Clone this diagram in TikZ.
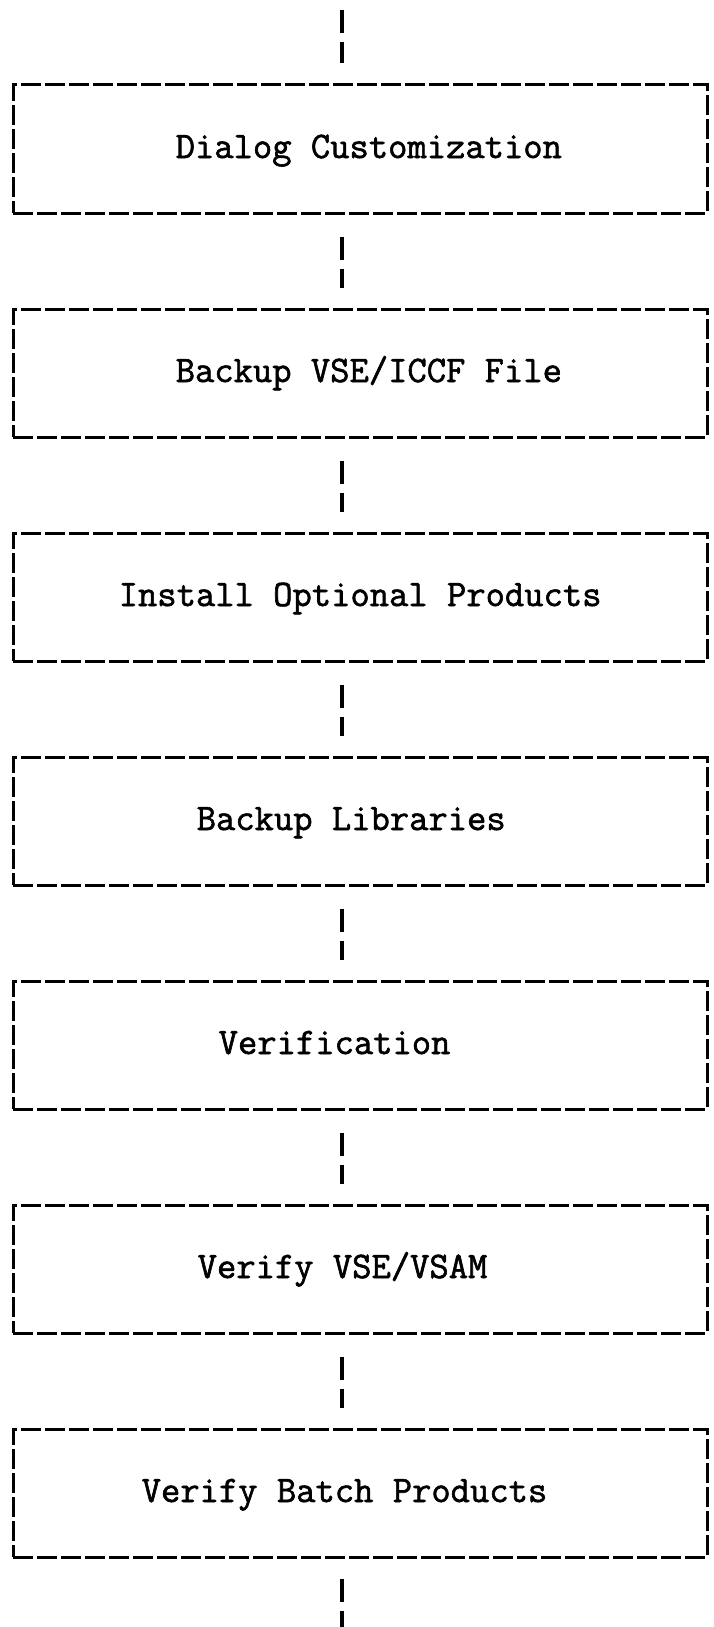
\documentclass[tikz,border=0pt]{standalone}
\usepackage{fontspec}
\newfontfamily\typefont{Latin Modern Mono}[FakeBold=1.6]
\usetikzlibrary{calc}
\tikzset{stepbox/.style={rectangle, draw, line width=3.0pt, dash pattern=on 20pt off 4pt, minimum width=694pt, minimum height=128pt, inner sep=0pt}}
\tikzset{steptext/.style={inner sep=0pt, anchor=base west, font=\typefont\fontsize{37.5}{43}\selectfont}}
\tikzset{link/.style={line width=3.6pt, dash pattern=on 23pt off 9pt}}

\begin{document}
\begin{tikzpicture}[x=1pt,y=-1pt]
  \useasboundingbox (0,0) rectangle (714,1627);
  \foreach \i/\y/\dx/\lab in {
    1/149/164/{Dialog Customization},
    2/373/164/{Backup VSE/ICCF File},
    3/597/107/{Install Optional Products},
    4/821/185/{Backup Libraries},
    5/1045/207/{Verification},
    6/1269/186/{Verify VSE/VSAM},
    7/1493/130/{Verify Batch Products}%
  } {
    \node[stepbox] (b\i) at (360,\y) {};
    \node[steptext] (t\i) at ([xshift=\dx pt, yshift=-9pt]b\i.west) {\lab};
  }
  \coordinate (in) at (342,10);
  \coordinate (out) at (342,1627);
  \draw[link, shorten >=20pt] (in) -- ([xshift=-18pt]b1.north);
  \foreach \i/\j in {1/2,2/3,3/4,4/5,5/6,6/7}{
    \draw[link, shorten <=22pt, shorten >=20pt] ([xshift=-18pt]b\i.south) -- ([xshift=-18pt]b\j.north);
  }
  \draw[link, shorten <=20pt] ([xshift=-18pt]b7.south) -- (out);
\end{tikzpicture}
\end{document}
